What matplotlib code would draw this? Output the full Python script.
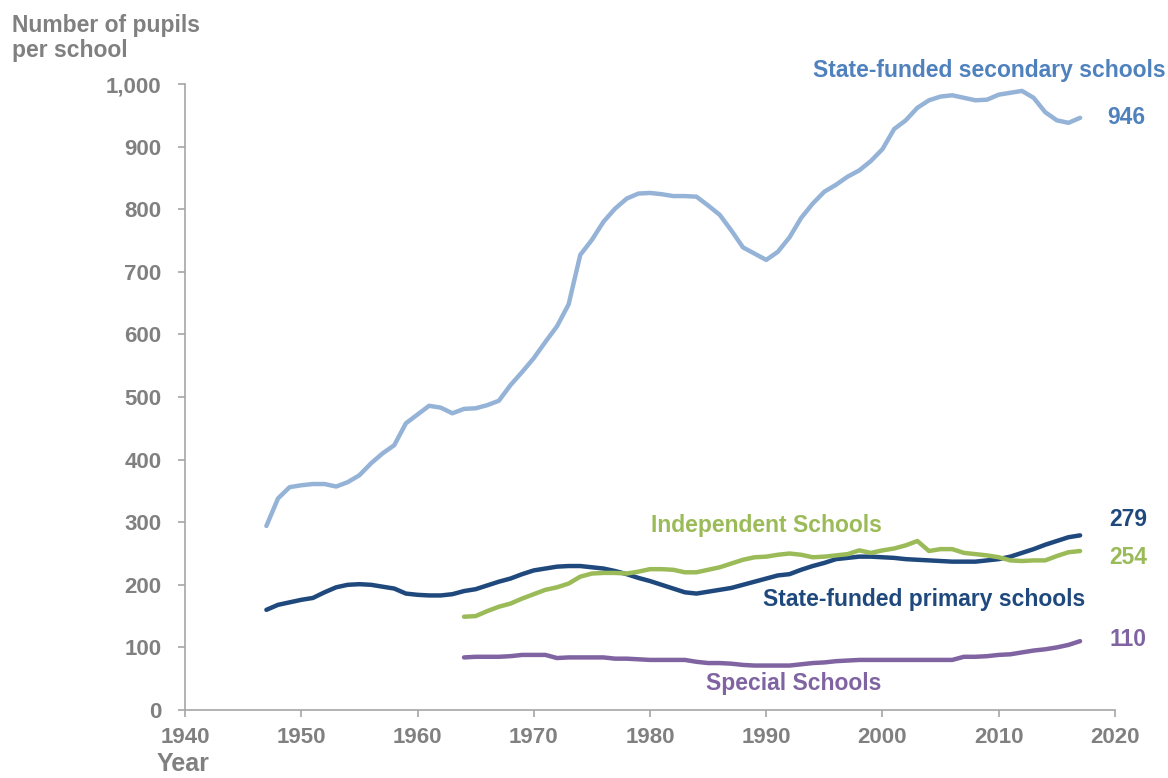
import matplotlib
matplotlib.use('Agg')
import matplotlib.pyplot as plt
from matplotlib.ticker import FuncFormatter

plt.rcParams['font.family'] = ['Liberation Sans', 'DejaVu Sans']
plt.rcParams['font.weight'] = 'bold'

# 年ごとのデータ
sec_years = list(range(1947, 2018))
secondary = [294, 338, 356, 359, 361, 361, 357, 364, 375, 394, 410, 423, 458, 472,
             486, 483, 474, 481, 482, 487, 494, 519, 540, 562, 588, 613, 648, 727,
             751, 780, 801, 817, 825, 826, 824, 821, 821, 820, 806, 791, 766, 739,
             729, 719, 732, 755, 786, 809, 828, 839, 852, 862, 877, 896, 928, 942,
             962, 974, 980, 982, 978, 974, 975, 983, 986, 989, 978, 955, 942, 938, 946]

pri_years = list(range(1947, 2018))
primary = [160, 168, 172, 176, 179, 188, 196, 200, 201, 200, 197, 194, 186, 184,
           183, 183, 185, 190, 193, 199, 205, 210, 217, 223, 226, 229, 230, 230,
           228, 226, 222, 217, 211, 206, 200, 194, 188, 186, 189, 192, 195, 200,
           205, 210, 215, 217, 224, 230, 235, 241, 243, 245, 245, 244, 243, 241,
           240, 239, 238, 237, 237, 237, 239, 241, 245, 251, 257, 264, 270, 276, 279]

ind_years = list(range(1964, 2018))
independent = [149, 150, 158, 165, 170, 178, 185, 192, 196, 202, 213, 218, 219, 219,
               218, 221, 225, 225, 224, 220, 220, 224, 228, 234, 240, 244, 245, 248,
               250, 248, 244, 245, 247, 249, 255, 251, 255, 258, 263, 270, 254, 257,
               257, 251, 249, 247, 244, 239, 238, 239, 239, 246, 252, 254]

spe_years = list(range(1964, 2018))
special = [84, 85, 85, 85, 86, 88, 88, 88, 83, 84, 84, 84, 84, 82, 82, 81, 80, 80,
           80, 80, 77, 75, 75, 74, 72, 71, 71, 71, 71, 73, 75, 76, 78, 79, 80, 80,
           80, 80, 80, 80, 80, 80, 80, 85, 85, 86, 88, 89, 92, 95, 97, 100, 104, 110]

c_sec = '#95B3D7'
c_sec_text = '#4F81BD'
c_pri = '#1F497D'
c_ind = '#9BBB59'
c_spe = '#8064A2'
grey = '#808080'

fig = plt.figure(figsize=(11.68, 7.78), dpi=100)
ax = fig.add_axes([0.1584, 0.0874, 0.7962, 0.8046])

lw = 3.2
ax.plot(sec_years, secondary, color=c_sec, lw=lw, solid_capstyle='round')
ax.plot(pri_years, primary, color=c_pri, lw=lw, solid_capstyle='round')
ax.plot(ind_years, independent, color=c_ind, lw=lw, solid_capstyle='round')
ax.plot(spe_years, special, color=c_spe, lw=lw, solid_capstyle='round')

ax.set_xlim(1940, 2020)
ax.set_ylim(0, 1000)
ax.set_xticks(range(1940, 2021, 10))
ax.set_yticks(range(0, 1001, 100))
ax.yaxis.set_major_formatter(FuncFormatter(lambda v, p: f'{int(v):,}'))

for s in ['top', 'right']:
    ax.spines[s].set_visible(False)
for s in ['left', 'bottom']:
    ax.spines[s].set_color('#A6A6A6')
    ax.spines[s].set_linewidth(1.2)
ax.tick_params(colors='#A6A6A6', labelcolor=grey, labelsize=16, length=5, width=1.2)
for lab in ax.get_xticklabels() + ax.get_yticklabels():
    lab.set_fontweight('bold')
ax.tick_params(axis='y', pad=12)
ax.tick_params(axis='x', pad=7)

fig.text(0.010, 0.982, 'Number of pupils\nper school', color=grey, fontsize=16.5,
         fontweight='bold', ha='left', va='top', linespacing=1.1)
fig.text(0.134, 0.003, 'Year', color=grey, fontsize=18, fontweight='bold',
         ha='left', va='bottom')

# 系列ラベル
kw = dict(fontsize=16.5, fontweight='bold', clip_on=False)
ax.text(2009.2, 1021, 'State-funded secondary schools', color=c_sec_text,
        ha='center', va='center', **kw)
ax.text(2019.3, 947, '946', color=c_sec_text, ha='left', va='center', **kw)
ax.text(2019.5, 305, '279', color=c_pri, ha='left', va='center', **kw)
ax.text(2019.5, 243, '254', color=c_ind, ha='left', va='center', **kw)
ax.text(2019.5, 112, '110', color=c_spe, ha='left', va='center', **kw)
ax.text(1990.0, 294, 'Independent Schools', color=c_ind, ha='center', va='center', **kw)
ax.text(2003.6, 176, 'State-funded primary schools', color=c_pri,
        ha='center', va='center', **kw)
ax.text(1992.4, 43, 'Special Schools', color=c_spe, ha='center', va='center', **kw)

plt.savefig('out.png', dpi=100)
plt.close()
